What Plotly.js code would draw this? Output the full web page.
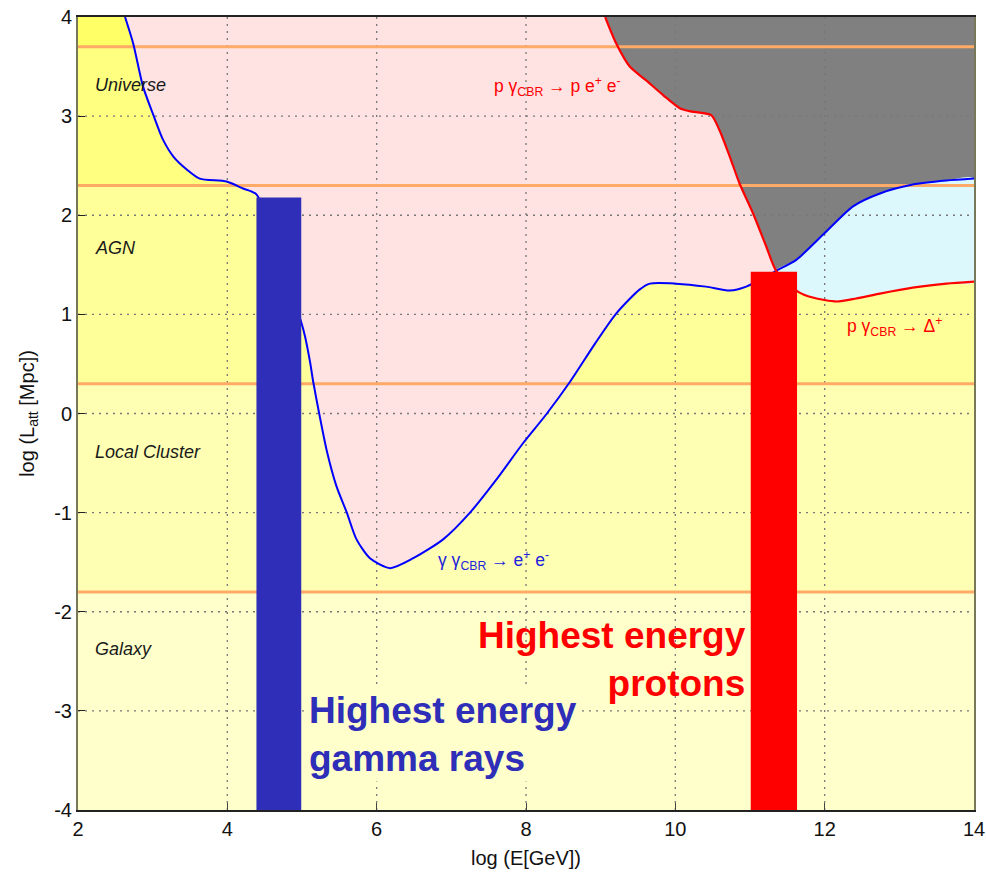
<!DOCTYPE html>
<html>
<head>
<meta charset="utf-8">
<script src="https://cdn.plot.ly/plotly-3.0.1.min.js"></script>
<style>html,body{margin:0;padding:0;background:#fff;}#chart{width:986px;height:887px;}</style>
</head>
<body>
<div id="chart"></div>
<script>
// ---- data ----
const xRange = [2, 14];
const yRange = [-4, 4];
const xTicks = [2, 4, 6, 8, 10, 12, 14];
const yTicks = [-4, -3, -2, -1, 0, 1, 2, 3, 4];
const gridX = [4, 6, 8, 10, 12];
const gridY = [-3, -2, -1, 0, 1, 2, 3];

// distance scale bands (log Mpc)
const bandEdges = [-4, -1.8, 0.3, 2.3, 3.7, 4];
const bandColors = ['#ffffcc', '#ffffb3', '#ffff99', '#ffff80', '#ffff66'];
const bandNames = ['Galaxy', 'Local Cluster', 'AGN', 'Universe'];
const bandLabelY = [-2.38, -0.385, 1.67, 3.31];
const scaleLines = [-1.8, 0.3, 2.3, 3.7];

// gamma gamma_CBR -> e+ e- attenuation length
const gammaX = [2.63, 2.74, 2.87, 3.01, 3.14, 3.28, 3.46, 3.63, 3.99, 4.21, 4.39, 4.99, 5.04, 5.11, 5.15, 5.23, 5.33, 5.46, 5.60, 5.73, 5.91, 6.18, 6.49, 6.89, 7.25, 7.60, 7.96, 8.27, 8.59, 8.92, 9.21, 9.52, 9.66, 10.01, 10.41, 10.73, 10.95, 11.35, 11.62, 12.00, 12.38, 12.74, 13.18, 13.63, 14.00];
const gammaY = [4.00, 3.73, 3.30, 3.01, 2.76, 2.59, 2.46, 2.37, 2.34, 2.27, 2.21, 0.92, 0.78, 0.51, 0.32, 0.00, -0.37, -0.73, -1.00, -1.27, -1.46, -1.56, -1.46, -1.27, -1.00, -0.67, -0.30, -0.01, 0.32, 0.70, 1.01, 1.25, 1.31, 1.31, 1.28, 1.24, 1.28, 1.44, 1.55, 1.82, 2.09, 2.22, 2.31, 2.35, 2.37];
// p gamma_CBR -> p e+ e-
const protonX = [9.06, 9.21, 9.39, 9.61, 9.84, 10.06, 10.19, 10.48, 10.59, 10.73, 10.86, 11.04, 11.22, 11.35];
const protonY = [4.00, 3.73, 3.50, 3.36, 3.21, 3.08, 3.05, 3.01, 2.86, 2.59, 2.32, 2.02, 1.68, 1.44];
// p gamma_CBR -> Delta+
const deltaX = [11.35, 11.64, 11.84, 12.16, 12.42, 12.74, 13.18, 13.63, 14.00];
const deltaY = [1.44, 1.23, 1.17, 1.13, 1.16, 1.21, 1.27, 1.31, 1.33];

// highest energy bars [x0, x1, top]
const gammaBar = [4.39, 4.99, 2.18];
const protonBar = [11.01, 11.63, 1.43];

// ---- build traces ----
const SMOOTH = 0.7;
const traces = [];
function poly(xs, ys, color, smooth) {
  return {type: 'scatter', mode: 'lines', x: xs, y: ys, fill: 'toself', fillcolor: color,
          line: {width: 0, color: color, shape: smooth ? 'spline' : 'linear', smoothing: SMOOTH},
          hoverinfo: 'skip', showlegend: false};
}
for (let i = 0; i < bandColors.length; i++) {
  const y0 = bandEdges[i], y1 = bandEdges[i + 1];
  traces.push(poly([xRange[0], xRange[1], xRange[1], xRange[0]], [y0, y0, y1, y1], bandColors[i], false));
}
// split gamma at tip
const tipIdx = gammaX.indexOf(protonX[protonX.length - 1]);
const gLowX = gammaX.slice(0, tipIdx + 1), gLowY = gammaY.slice(0, tipIdx + 1);
const gHighX = gammaX.slice(tipIdx), gHighY = gammaY.slice(tipIdx);
// pink: above gamma, below proton
traces.push(poly(gLowX.concat(protonX.slice().reverse()), gLowY.concat(protonY.slice().reverse()), '#ffe3e3', true));
// gray: above both
traces.push(poly(protonX.concat(gHighX, [xRange[1]]), protonY.concat(gHighY, [yRange[1]]), '#808080', true));
// cyan: between delta and gamma
traces.push(poly(gHighX.concat(deltaX.slice().reverse()), gHighY.concat(deltaY.slice().reverse()), '#dcf8fc', true));

// grid (dotted)
const gx = [], gy = [];
gridX.forEach(v => { gx.push(v, v, null); gy.push(yRange[0], yRange[1], null); });
gridY.forEach(v => { gx.push(xRange[0], xRange[1], null); gy.push(v, v, null); });
traces.push({type: 'scatter', mode: 'lines', x: gx, y: gy, line: {color: '#777', width: 1.3, dash: '2px,5px'},
             hoverinfo: 'skip', showlegend: false, connectgaps: false});

// orange scale lines
const ox = [], oy = [];
scaleLines.forEach(v => { ox.push(xRange[0], xRange[1], null); oy.push(v, v, null); });
traces.push({type: 'scatter', mode: 'lines', x: ox, y: oy, line: {color: '#ffaa66', width: 3},
             hoverinfo: 'skip', showlegend: false});

// curves
traces.push({type: 'scatter', mode: 'lines', x: gammaX, y: gammaY,
             line: {color: '#0000ff', width: 2, shape: 'spline', smoothing: SMOOTH}, hoverinfo: 'skip', showlegend: false});
traces.push({type: 'scatter', mode: 'lines', x: protonX.concat(deltaX.slice(1)), y: protonY.concat(deltaY.slice(1)),
             line: {color: '#ff0000', width: 2.2, shape: 'spline', smoothing: SMOOTH}, hoverinfo: 'skip', showlegend: false});

// bars
function bar(b, color) {
  return poly([b[0], b[1], b[1], b[0]], [yRange[0], yRange[0], b[2], b[2]], color, false);
}
traces.push(bar(gammaBar, '#2e2eb8'));
traces.push(bar(protonBar, '#ff0000'));

// ---- annotations ----
const FONT = 'Liberation Sans, Arial, sans-serif';
const annotations = [];
bandNames.forEach((n, i) => {
  annotations.push({x: 2.2, y: bandLabelY[i], xref: 'x', yref: 'y', text: '<i>' + n + '</i>', showarrow: false,
    xanchor: 'left', yanchor: 'middle', font: {family: FONT, size: 18, color: '#1a1a1a'}});
});
annotations.push({x: 7.55, y: 3.3, text: 'p γ<sub>CBR</sub> → p e<sup>+</sup> e<sup>-</sup>', showarrow: false,
  xanchor: 'left', yanchor: 'middle', font: {family: FONT, size: 17.5, color: '#ff0000'}});
annotations.push({x: 12.27, y: 0.88, text: 'p γ<sub>CBR</sub> → Δ<sup>+</sup>', showarrow: false,
  xanchor: 'left', yanchor: 'middle', font: {family: FONT, size: 17.5, color: '#ff0000'}});
annotations.push({x: 6.8, y: -1.48, text: 'γ γ<sub>CBR</sub> → e<sup>+</sup> e<sup>-</sup>', showarrow: false,
  xanchor: 'left', yanchor: 'middle', font: {family: FONT, size: 17.5, color: '#2222dd'}});
annotations.push({x: 5.06, y: -3.24, text: '<b>Highest energy<br>gamma rays</b>', showarrow: false,
  xanchor: 'left', yanchor: 'middle', align: 'left', bgcolor: '#ffffcc', borderpad: 2,
  font: {family: FONT, size: 37, color: '#2e2eb8'}});
annotations.push({x: 10.97, y: -2.48, text: '<b>Highest energy<br>protons</b>', showarrow: false,
  xanchor: 'right', yanchor: 'middle', align: 'right',
  font: {family: FONT, size: 37, color: '#ff0000'}});

const layout = {
  width: 986, height: 887,
  margin: {l: 78, r: 12, t: 17, b: 77},
  paper_bgcolor: '#ffffff', plot_bgcolor: '#ffffcc',
  showlegend: false,
  font: {family: FONT, color: '#111'},
  xaxis: {range: xRange, tickvals: xTicks, ticktext: xTicks.map(String), showgrid: false, zeroline: false,
    ticks: 'inside', ticklen: 7, tickcolor: '#444', showline: true, mirror: true, linecolor: '#222', linewidth: 2,
    tickfont: {size: 20, color: '#111'},
    title: {text: 'log (E[GeV])', font: {size: 20, color: '#111'}, standoff: 12}},
  yaxis: {range: yRange, tickvals: yTicks, ticktext: yTicks.map(String), showgrid: false, zeroline: false,
    ticks: 'inside', ticklen: 7, tickcolor: '#222', showline: true, mirror: true, linecolor: '#77775a', linewidth: 2,
    tickfont: {size: 20, color: '#111'},
    title: {text: 'log (L<sub>att</sub> [Mpc])', font: {size: 20, color: '#111'}, standoff: 14}},
  annotations: annotations
};

Plotly.newPlot('chart', traces, layout, {staticPlot: true, displayModeBar: false});
</script>
</body>
</html>
